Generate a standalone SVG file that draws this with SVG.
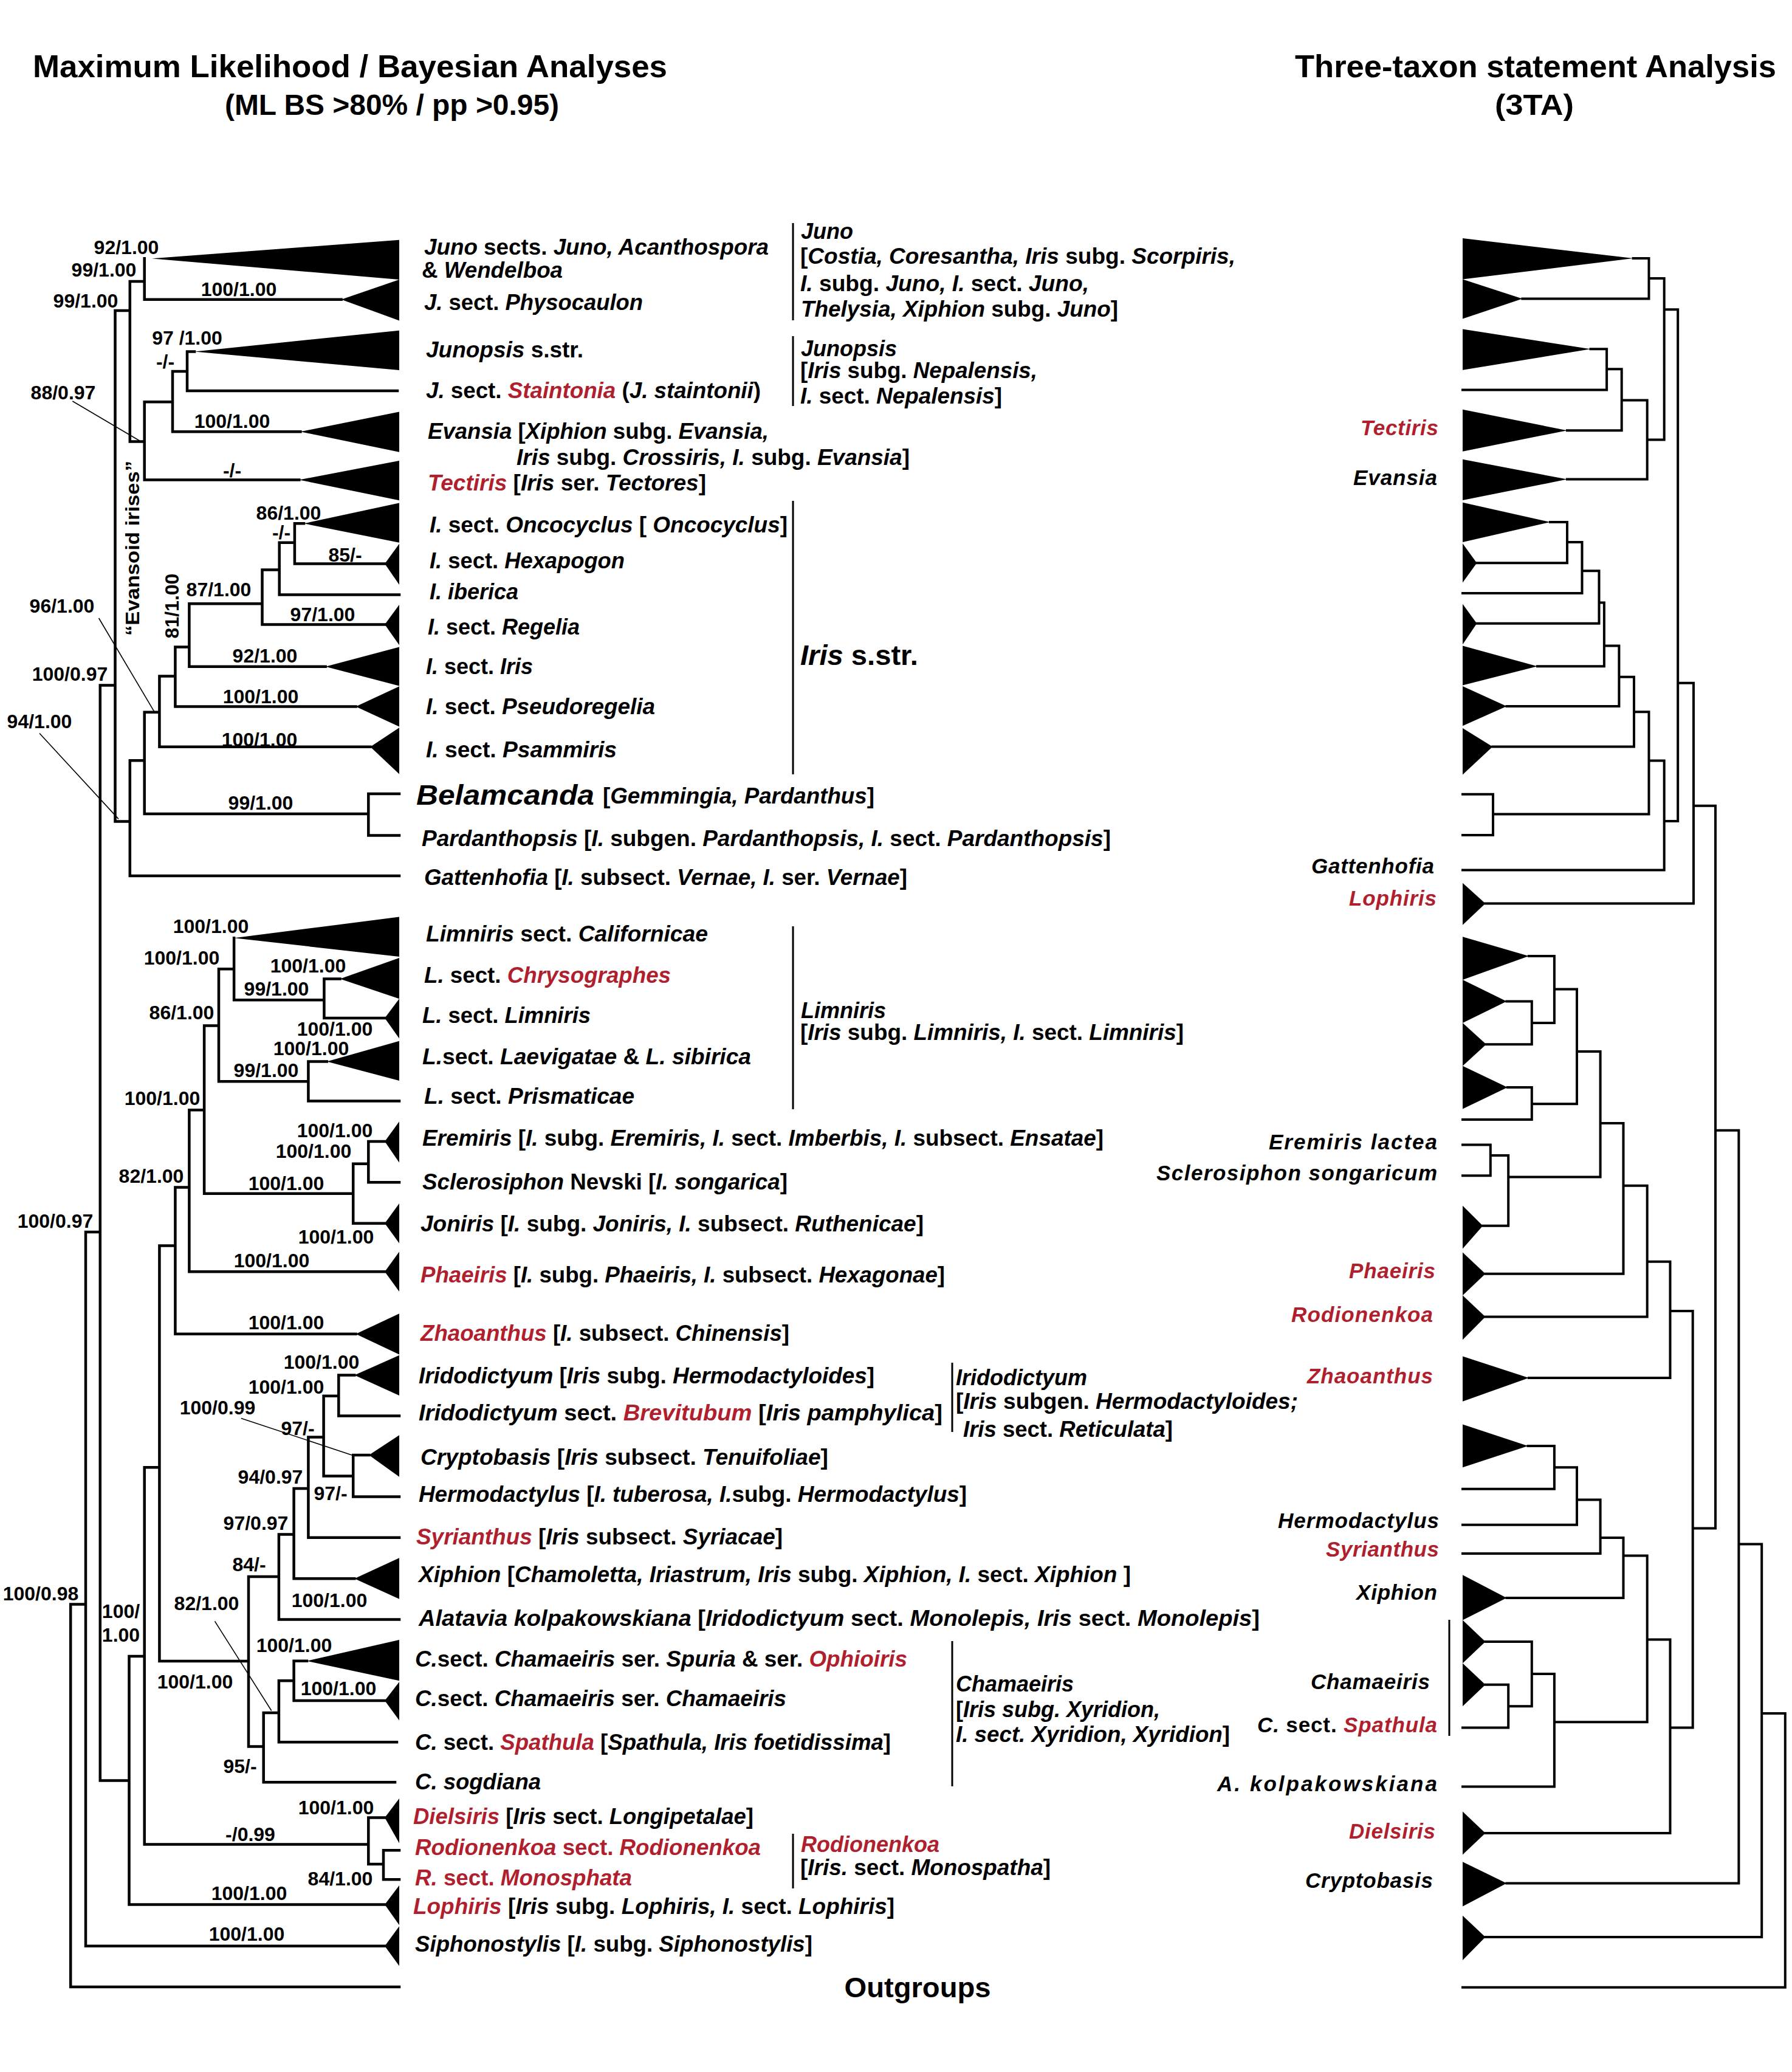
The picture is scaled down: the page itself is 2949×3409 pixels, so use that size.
<svg xmlns="http://www.w3.org/2000/svg" width="2949" height="3409" viewBox="0 0 2949 3409">
<style>
.ln{stroke:#000;stroke-width:4.5;fill:none;stroke-linecap:square}
.rl{stroke:#000;stroke-width:4;fill:none;stroke-linecap:square}
.ld{stroke:#000;stroke-width:1.6;fill:none}
.bar{stroke:#000;stroke-width:3;fill:none}
.tri{fill:#000;stroke:none}
.n{font-family:"Liberation Sans",Arial,sans-serif;font-weight:bold;font-size:32px;text-anchor:middle;fill:#000}
.t{font-family:"Liberation Sans",Arial,sans-serif;font-weight:bold;font-size:36px;fill:#000}
.big{font-family:"Liberation Sans",Arial,sans-serif;font-weight:bold;font-size:46px;fill:#000}
.r3{font-family:"Liberation Sans",Arial,sans-serif;font-weight:bold;font-style:italic;font-size:35px;text-anchor:end;fill:#000}
.ttl{font-family:"Liberation Sans",Arial,sans-serif;font-weight:bold;font-size:52px;text-anchor:middle;fill:#000}
.sub{font-family:"Liberation Sans",Arial,sans-serif;font-weight:bold;font-size:48px;text-anchor:middle;fill:#000}
.i{font-style:italic}
.red{fill:#b01f2e}
</style>

<g id="titles">
<text class="ttl" x="576" y="127" textLength="1044" lengthAdjust="spacingAndGlyphs">Maximum Likelihood / Bayesian Analyses</text>
<text class="sub" x="645" y="189" textLength="550" lengthAdjust="spacingAndGlyphs">(ML BS &gt;80% / pp &gt;0.95)</text>
<text class="ttl" x="2527" y="127" textLength="792" lengthAdjust="spacingAndGlyphs">Three-taxon statement Analysis</text>
<text class="sub" x="2525" y="189" textLength="130" lengthAdjust="spacingAndGlyphs">(3TA)</text>
</g>

<g id="connectors">
<path class="ln" d="M237.7,492.7H561.6 M237.7,425.3V492.7 M213.8,462.9H237.7 M213.8,462.9V726.6H237.7 M189.5,511H213.8
M308,578.4H320 M308,642.9H654 M308,578.4V642.9 M284,611H308 M284,611V710.2H494.4 M237.7,661.3H284 M237.7,661.3V789.4H492.3
M484.9,861.3H500 M484.9,861.3V927.4H633.2 M459.7,892.7H484.9 M459.7,892.7V978.4H657 M431.5,937.6H459.7 M431.5,937.6V1027.4H633.2
M311.4,993.3H431.5 M311.4,993.3V1096.7H535.6 M288.4,1064.6H311.4 M288.4,1064.6V1162.4H585.5 M262.4,1112.6H288.4 M262.4,1112.6V1228.7H609.4
M237.7,1171.7H262.4 M237.7,1171.7V1339.1H606.3 M606.3,1306V1374.6 M606.3,1306H657 M606.3,1374.6H657
M213.8,1251.2H237.7 M213.8,1251.2V1440.9H657 M189.5,1351.4H213.8 M189.5,511V1351.4 M164.8,1127.6H189.5 M164.8,1127.6V2929.4H212.5
M385.1,1543.3V1645.3H533.4 M533.4,1610.6H559.5 M533.4,1610.6V1675.1H633.2 M360,1594.3H385.1 M360,1594.3V1779.2H507.4
M507.4,1746.6V1811.5H657 M507.4,1746.6H537.8 M336.1,1687.4H360 M336.1,1687.4V1963.7H581.2
M581.2,1914.7V2012.7H633.2 M581.2,1914.7H606.3 M606.3,1878V1945.3H657 M606.3,1878H633.2
M311.4,1826.2H336.1 M311.4,1826.2V2092.3H633.2 M288.4,1953.5H311.4 M288.4,1953.5V2194.7H585.5
M262.4,2049.4H288.4 M262.4,2049.4V2733H409
M557.3,2262.5H583.3 M557.3,2262.5V2329.4H657 M532.6,2296.8H557.3 M532.6,2296.8V2428.6H581.2
M581.2,2393.9H607.2 M581.2,2393.9V2462.5H657 M507.4,2364.5H532.6 M507.4,2364.5V2529.8H657
M483.6,2449H507.4 M483.6,2449V2597.2H583.3 M458.9,2524.5H483.6 M458.9,2524.5V2664.5H657
M409,2594H458.9 M409,2594V2873.4H433.7 M433.7,2817.9V2932.3H650 M433.7,2817.9H458.9
M458.9,2765.2V2866.3H653 M458.9,2765.2H483.6 M483.6,2732.8H505 M483.6,2732.8V2798H633.2
M237.7,2414.3H262.4 M237.7,2414.3V3034.6H606.3 M606.3,2990.4V3067H631 M606.3,2990.4H633.2
M631,3044.3V3092.3 M631,3044.3H657 M631,3092.3H657
M212.5,2725H237.7 M212.5,2725V3133.5H633.2
M141,2027H164.8 M141,2027V3201.7H633.2 M116.2,2639.6H141 M116.2,2639.6V3269H657"/>
<path class="ld" d="M119.3,660L229.9,725.3 M162.6,1017L253.7,1170.7 M65,1206.5L195,1347.4 M396.8,2333.5L579,2393.9 M353.5,2667.4L446.7,2814.5"/>
<path class="rl" d="M2687.6,425H2713.5 M2505.3,491.6H2713.5 M2713.5,425V491.6 M2713.5,458H2738.7 M2738.7,458V723.5 M2710.7,723.5H2738.7 M2738.7,509.2H2761.2
M2617.5,574.3H2644.1 M2407,641.6H2644.1 M2644.1,574.3V641.6 M2644.1,607.2H2668.7 M2578.9,708.2H2668.7 M2668.7,607.2V708.2 M2668.7,658.5H2710.7
M2578.9,788.6H2710.7 M2710.7,658.5V788.6
M2551,859H2579 M2430.3,926.3H2579 M2579,859V926.3 M2579,891.9H2603.5 M2407,976H2603.5 M2603.5,891.9V976 M2603.5,939.3H2631.5
M2430.3,1025.8H2631.5 M2631.5,939.3V1025.8 M2631.5,991.4H2639.9 M2529.9,1096.2H2639.9 M2639.9,991.4V1096.2 M2639.9,1062.5H2664.4
M2479.4,1162H2664.4 M2664.4,1062.5V1162 M2664.4,1113.8H2689 M2456.3,1228.6H2689 M2689,1113.8V1228.6 M2689,1171.2H2713.5
M2407,1306.7H2457 M2407,1374H2457 M2457,1306.7V1374 M2457,1339.6H2713.5 M2713.5,1171.2V1339.6 M2713.5,1251.6H2738.7
M2407,1431.4H2738.7 M2738.7,1251.6V1431.4 M2738.7,1351H2761.2 M2761.2,509.2V1351 M2761.2,1123.8H2787
M2444.4,1486.5H2787 M2787,1123.8V1486.5 M2787,1325.8H2823 M2823,1325.8V2514.6 M2785.7,2514.6H2823 M2823,1859.8H2861.4
M2515.9,1573.1H2557.9 M2479.4,1647.5H2520.8 M2445.8,1718.3H2520.8 M2520.8,1647.5V1718.3 M2520.8,1682.9H2557.9 M2557.9,1573.1V1682.9 M2557.9,1627.4H2595
M2480.8,1789H2520.8 M2407,1842.1H2520.8 M2520.8,1789V1842.1 M2520.8,1816.2H2595 M2595,1627.4V1816.2 M2595,1730H2633.6
M2407,1883.4H2452.8 M2407,1934.2H2452.8 M2452.8,1883.4V1934.2 M2452.8,1901.1H2482.2 M2440.2,2016.7H2482.2 M2482.2,1901.1V2016.7 M2482.2,1936.5H2633.6
M2633.6,1730V1936.5 M2633.6,1848H2671.5 M2444.4,2095.8H2671.5 M2671.5,1848V2095.8 M2671.5,1950.7H2710.7
M2444.4,2166.6H2710.7 M2710.7,1950.7V2166.6 M2710.7,2075.7H2748.5 M2515.9,2266.9H2748.5 M2748.5,2075.7V2266.9 M2748.5,2157.1H2785.7 M2785.7,2157.1V2842.6
M2514.5,2378.9H2557.9 M2407,2449.7H2557.9 M2557.9,2378.9V2449.7 M2557.9,2414.3H2595 M2407,2508.7H2595 M2595,2414.3V2508.7 M2595,2467.4H2633.6
M2407,2555.9H2633.6 M2633.6,2467.4V2555.9 M2633.6,2530H2671.5 M2479.4,2629.1H2671.5 M2671.5,2530V2629.1 M2671.5,2559.5H2710.7
M2444.4,2701H2520.8 M2444.4,2771.8H2482.2 M2407,2842.6H2482.2 M2482.2,2771.8V2842.6 M2482.2,2807.2H2520.8 M2520.8,2701V2807.2 M2520.8,2754.1H2557.9
M2407,2939.4H2557.9 M2557.9,2754.1V2939.4 M2557.9,2833.2H2710.7 M2710.7,2559.5V2833.2 M2710.7,2697.5H2748.5
M2444.4,3016H2748.5 M2748.5,2697.5V3016 M2748.5,2842.6H2785.7
M2479.4,3098.6H2861.4 M2861.4,1859.8V3098.6 M2861.4,2540.6H2899.2 M2444.4,3187.1H2899.2 M2899.2,2540.6V3187.1 M2899.2,2819H2937.8
M2407,3269.7H2937.8 M2937.8,2819V3269.7"/>
</g>

<g id="group-bars">
<path class="bar" d="M1305,367V527 M1305,553V668 M1305,824V1274 M1305,1524V1825 M1567,2242V2356 M1567,2700V2939 M1305,3017V3107 M2385,2665V2856"/>
</g>

<g id="support">
<text class="n" x="208" y="418">92/1.00</text>
<text class="n" x="171" y="455">99/1.00</text>
<text class="n" x="141" y="506">99/1.00</text>
<text class="n" x="393" y="487">100/1.00</text>
<text class="n" x="308" y="567">97 /1.00</text>
<text class="n" x="272" y="606">-/-</text>
<text class="n" x="104" y="657">88/0.97</text>
<text class="n" x="382" y="704">100/1.00</text>
<text class="n" x="382" y="785">-/-</text>
<text class="n" x="475" y="855">86/1.00</text>
<text class="n" x="463" y="887">-/-</text>
<text class="n" x="568" y="924">85/-</text>
<text class="n" x="360" y="981">87/1.00</text>
<text class="n" x="531" y="1022">97/1.00</text>
<text class="n" x="102" y="1008">96/1.00</text>
<text class="n" x="436" y="1090">92/1.00</text>
<text class="n" x="115" y="1120">100/0.97</text>
<text class="n" x="429" y="1157">100/1.00</text>
<text class="n" x="65" y="1198">94/1.00</text>
<text class="n" x="427" y="1228">100/1.00</text>
<text class="n" x="429" y="1332">99/1.00</text>
<text class="n" x="347" y="1535">100/1.00</text>
<text class="n" x="299" y="1587">100/1.00</text>
<text class="n" x="507" y="1600">100/1.00</text>
<text class="n" x="455" y="1638">99/1.00</text>
<text class="n" x="299" y="1677">86/1.00</text>
<text class="n" x="551" y="1704">100/1.00</text>
<text class="n" x="512" y="1736">100/1.00</text>
<text class="n" x="438" y="1772">99/1.00</text>
<text class="n" x="267" y="1818">100/1.00</text>
<text class="n" x="551" y="1871">100/1.00</text>
<text class="n" x="516" y="1905">100/1.00</text>
<text class="n" x="249" y="1946">82/1.00</text>
<text class="n" x="471" y="1958">100/1.00</text>
<text class="n" x="91" y="2020">100/0.97</text>
<text class="n" x="553" y="2046">100/1.00</text>
<text class="n" x="447" y="2085">100/1.00</text>
<text class="n" x="471" y="2187">100/1.00</text>
<text class="n" x="529" y="2252">100/1.00</text>
<text class="n" x="471" y="2293">100/1.00</text>
<text class="n" x="358" y="2327">100/0.99</text>
<text class="n" x="490" y="2361">97/-</text>
<text class="n" x="445" y="2441">94/0.97</text>
<text class="n" x="544" y="2468">97/-</text>
<text class="n" x="421" y="2517">97/0.97</text>
<text class="n" x="410" y="2585">84/-</text>
<text class="n" x="67" y="2633">100/0.98</text>
<text class="n" x="542" y="2644">100/1.00</text>
<text class="n" x="340" y="2649">82/1.00</text>
<text class="n" x="199" y="2662">100/</text>
<text class="n" x="199" y="2701">1.00</text>
<text class="n" x="484" y="2718">100/1.00</text>
<text class="n" x="321" y="2778">100/1.00</text>
<text class="n" x="557" y="2789">100/1.00</text>
<text class="n" x="395" y="2917">95/-</text>
<text class="n" x="553" y="2985">100/1.00</text>
<text class="n" x="412" y="3029">-/0.99</text>
<text class="n" x="560" y="3102">84/1.00</text>
<text class="n" x="410" y="3126">100/1.00</text>
<text class="n" x="406" y="3193">100/1.00</text>
<text class="n" transform="translate(294,997) rotate(-90)">81/1.00</text>
<text class="n" transform="translate(229,902) rotate(-90)" textLength="288" lengthAdjust="spacingAndGlyphs">“Evansoid irises”</text>
</g>

<g id="ml-juno">
<polygon class="tri" points="250,425.3 657,394.7 657,460"/>
<text class="t" x="698" y="419" textLength="567" lengthAdjust="spacingAndGlyphs"><tspan class="i">Juno</tspan> sects. <tspan class="i">Juno, Acanthospora</tspan></text>
<text class="t" x="694" y="457" textLength="232" lengthAdjust="spacingAndGlyphs">&amp; <tspan class="i">Wendelboa</tspan></text>
</g>
<g id="ml-physocaulon">
<polygon class="tri" points="561.6,492.7 657,460 657,527.4"/>
<text class="t" x="698" y="510" textLength="360" lengthAdjust="spacingAndGlyphs"><tspan class="i">J.</tspan> sect. <tspan class="i">Physocaulon</tspan></text>
</g>
<g id="genus-juno">
<text class="t i" x="1318" y="393">Juno</text>
<text class="t" x="1317" y="434" textLength="716" lengthAdjust="spacingAndGlyphs">[<tspan class="i">Costia, Coresantha, Iris</tspan> subg. <tspan class="i">Scorpiris,</tspan></text>
<text class="t" x="1317" y="479" textLength="475" lengthAdjust="spacingAndGlyphs"><tspan class="i">I.</tspan> subg. <tspan class="i">Juno, I.</tspan> sect. <tspan class="i">Juno,</tspan></text>
<text class="t" x="1318" y="521" textLength="522" lengthAdjust="spacingAndGlyphs"><tspan class="i">Thelysia, Xiphion</tspan> subg. <tspan class="i">Juno</tspan>]</text>
</g>
<g id="ml-junopsis">
<polygon class="tri" points="320,578.4 657,543.7 657,609"/>
<text class="t" x="701" y="588" textLength="259" lengthAdjust="spacingAndGlyphs"><tspan class="i">Junopsis</tspan> s.str.</text>
</g>
<g id="ml-staintonia">
<text class="t" x="701" y="655" textLength="551" lengthAdjust="spacingAndGlyphs"><tspan class="i">J.</tspan> sect. <tspan class="i red">Staintonia</tspan> (<tspan class="i">J. staintonii</tspan>)</text>
</g>
<g id="genus-junopsis">
<text class="t i" x="1318" y="586">Junopsis</text>
<text class="t" x="1317" y="622" textLength="390" lengthAdjust="spacingAndGlyphs">[<tspan class="i">Iris</tspan> subg. <tspan class="i">Nepalensis,</tspan></text>
<text class="t" x="1317" y="664" textLength="332" lengthAdjust="spacingAndGlyphs"><tspan class="i">I.</tspan> sect. <tspan class="i">Nepalensis</tspan>]</text>
</g>
<g id="ml-evansia">
<polygon class="tri" points="494.4,710.2 657,677.6 657,743.7"/>
<text class="t" x="704" y="722" textLength="561" lengthAdjust="spacingAndGlyphs"><tspan class="i">Evansia</tspan> [<tspan class="i">Xiphion</tspan> subg. <tspan class="i">Evansia,</tspan></text>
<text class="t" x="850" y="765" textLength="647" lengthAdjust="spacingAndGlyphs"><tspan class="i">Iris</tspan> subg. <tspan class="i">Crossiris, I.</tspan> subg. <tspan class="i">Evansia</tspan>]</text>
</g>
<g id="ml-tectiris">
<polygon class="tri" points="492.3,789.4 657,758 657,823.3"/>
<text class="t" x="704" y="807" textLength="458" lengthAdjust="spacingAndGlyphs"><tspan class="i red">Tectiris</tspan> [<tspan class="i">Iris</tspan> ser. <tspan class="i">Tectores</tspan>]</text>
</g>
<g id="ml-oncocyclus">
<polygon class="tri" points="500,861.3 657,827.4 657,892.7"/>
<text class="t" x="707" y="876" textLength="589" lengthAdjust="spacingAndGlyphs"><tspan class="i">I.</tspan> sect. <tspan class="i">Oncocyclus</tspan> [ <tspan class="i">Oncocyclus</tspan>]</text>
</g>
<g id="ml-hexapogon">
<polygon class="tri" points="633.2,927.4 657,894.7 657,962.1"/>
<text class="t" x="707" y="935" textLength="321" lengthAdjust="spacingAndGlyphs"><tspan class="i">I.</tspan> sect. <tspan class="i">Hexapogon</tspan></text>
</g>
<g id="ml-iberica">
<text class="t i" x="707" y="986">I. iberica</text>
</g>
<g id="ml-regelia">
<polygon class="tri" points="633.2,1027.4 657,994.9 657,1061.2"/>
<text class="t" x="704" y="1044"><tspan class="i">I.</tspan> sect. <tspan class="i">Regelia</tspan></text>
</g>
<g id="ml-iris">
<polygon class="tri" points="535.6,1096.7 657,1064.6 657,1128.6"/>
<text class="t" x="701" y="1109"><tspan class="i">I.</tspan> sect. <tspan class="i">Iris</tspan></text>
</g>
<g id="genus-iris">
<text class="big" x="1317" y="1094" textLength="194" lengthAdjust="spacingAndGlyphs"><tspan class="i">Iris</tspan> s.str.</text>
</g>
<g id="ml-pseudoregelia">
<polygon class="tri" points="585.5,1162.4 657,1129.2 657,1195.5"/>
<text class="t" x="701" y="1175" textLength="377" lengthAdjust="spacingAndGlyphs"><tspan class="i">I.</tspan> sect. <tspan class="i">Pseudoregelia</tspan></text>
</g>
<g id="ml-psammiris">
<polygon class="tri" points="609.4,1228.7 657,1197.2 657,1273.5"/>
<text class="t" x="701" y="1246" textLength="314" lengthAdjust="spacingAndGlyphs"><tspan class="i">I.</tspan> sect. <tspan class="i">Psammiris</tspan></text>
</g>
<g id="ml-belamcanda">
<text class="big i" x="685" y="1324" textLength="293" lengthAdjust="spacingAndGlyphs">Belamcanda</text>
<text class="t" x="992" y="1322" textLength="447" lengthAdjust="spacingAndGlyphs">[<tspan class="i">Gemmingia, Pardanthus</tspan>]</text>
</g>
<g id="ml-pardanthopsis">
<text class="t" x="694" y="1392" textLength="1134" lengthAdjust="spacingAndGlyphs"><tspan class="i">Pardanthopsis</tspan> [<tspan class="i">I.</tspan> subgen. <tspan class="i">Pardanthopsis, I.</tspan> sect. <tspan class="i">Pardanthopsis</tspan>]</text>
</g>
<g id="ml-gattenhofia">
<text class="t" x="698" y="1456" textLength="795" lengthAdjust="spacingAndGlyphs"><tspan class="i">Gattenhofia</tspan> [<tspan class="i">I.</tspan> subsect. <tspan class="i">Vernae, I.</tspan> ser. <tspan class="i">Vernae</tspan>]</text>
</g>
<g id="ml-californicae">
<polygon class="tri" points="385.1,1543.3 657,1508.6 657,1573.9"/>
<text class="t" x="701" y="1549" textLength="464" lengthAdjust="spacingAndGlyphs"><tspan class="i">Limniris</tspan> sect. <tspan class="i">Californicae</tspan></text>
</g>
<g id="ml-chrysographes">
<polygon class="tri" points="559.5,1610.6 657,1576 657,1643.3"/>
<text class="t" x="698" y="1617" textLength="406" lengthAdjust="spacingAndGlyphs"><tspan class="i">L.</tspan> sect. <tspan class="i red">Chrysographes</tspan></text>
</g>
<g id="ml-limniris">
<polygon class="tri" points="633.2,1675.1 657,1643.3 657,1708.6"/>
<text class="t" x="695" y="1683" textLength="277" lengthAdjust="spacingAndGlyphs"><tspan class="i">L.</tspan> sect. <tspan class="i">Limniris</tspan></text>
</g>
<g id="ml-laevigatae">
<polygon class="tri" points="537.8,1746.6 657,1712.7 657,1778"/>
<text class="t" x="695" y="1751" textLength="541" lengthAdjust="spacingAndGlyphs"><tspan class="i">L.</tspan>sect. <tspan class="i">Laevigatae</tspan> &amp; <tspan class="i">L. sibirica</tspan></text>
</g>
<g id="ml-prismaticae">
<text class="t" x="698" y="1816" textLength="346" lengthAdjust="spacingAndGlyphs"><tspan class="i">L.</tspan> sect. <tspan class="i">Prismaticae</tspan></text>
</g>
<g id="genus-limniris">
<text class="t i" x="1318" y="1675">Limniris</text>
<text class="t" x="1317" y="1711" textLength="631" lengthAdjust="spacingAndGlyphs">[<tspan class="i">Iris</tspan> subg. <tspan class="i">Limniris, I.</tspan> sect. <tspan class="i">Limniris</tspan>]</text>
</g>
<g id="ml-eremiris">
<polygon class="tri" points="633.2,1878 657,1845.3 657,1912.7"/>
<text class="t" x="695" y="1885" textLength="1121" lengthAdjust="spacingAndGlyphs"><tspan class="i">Eremiris</tspan> [<tspan class="i">I.</tspan> subg. <tspan class="i">Eremiris, I.</tspan> sect. <tspan class="i">Imberbis, I.</tspan> subsect. <tspan class="i">Ensatae</tspan>]</text>
</g>
<g id="ml-sclerosiphon">
<text class="t" x="695" y="1957" textLength="601" lengthAdjust="spacingAndGlyphs"><tspan class="i">Sclerosiphon</tspan> Nevski [<tspan class="i">I. songarica</tspan>]</text>
</g>
<g id="ml-joniris">
<polygon class="tri" points="633.2,2012.7 657,1980 657,2045.4"/>
<text class="t" x="692" y="2026" textLength="828" lengthAdjust="spacingAndGlyphs"><tspan class="i">Joniris</tspan> [<tspan class="i">I.</tspan> subg. <tspan class="i">Joniris, I.</tspan> subsect. <tspan class="i">Ruthenicae</tspan>]</text>
</g>
<g id="ml-phaeiris">
<polygon class="tri" points="633.2,2092.3 657,2059.6 657,2125"/>
<text class="t" x="692" y="2110" textLength="863" lengthAdjust="spacingAndGlyphs"><tspan class="i red">Phaeiris</tspan> [<tspan class="i">I.</tspan> subg. <tspan class="i">Phaeiris, I.</tspan> subsect. <tspan class="i">Hexagonae</tspan>]</text>
</g>
<g id="ml-zhaoanthus">
<polygon class="tri" points="585.5,2194.7 657,2161.2 657,2228.6"/>
<text class="t" x="692" y="2206" textLength="607" lengthAdjust="spacingAndGlyphs"><tspan class="i red">Zhaoanthus</tspan> [<tspan class="i">I.</tspan> subsect. <tspan class="i">Chinensis</tspan>]</text>
</g>
<g id="ml-iridodictyum">
<polygon class="tri" points="583.3,2262.5 657,2229.8 657,2296"/>
<text class="t" x="689" y="2276" textLength="750" lengthAdjust="spacingAndGlyphs"><tspan class="i">Iridodictyum</tspan> [<tspan class="i">Iris</tspan> subg. <tspan class="i">Hermodactyloides</tspan>]</text>
</g>
<g id="ml-brevitubum">
<text class="t" x="689" y="2337" textLength="862" lengthAdjust="spacingAndGlyphs"><tspan class="i">Iridodictyum</tspan> sect. <tspan class="i red">Brevitubum</tspan> [<tspan class="i">Iris pamphylica</tspan>]</text>
</g>
<g id="genus-iridodictyum">
<text class="t i" x="1573" y="2279">Iridodictyum</text>
<text class="t" x="1573" y="2318" textLength="563" lengthAdjust="spacingAndGlyphs">[<tspan class="i">Iris</tspan> subgen. <tspan class="i">Hermodactyloides;</tspan></text>
<text class="t" x="1585" y="2364" textLength="345" lengthAdjust="spacingAndGlyphs"><tspan class="i">Iris</tspan> sect. <tspan class="i">Reticulata</tspan>]</text>
</g>
<g id="ml-cryptobasis">
<polygon class="tri" points="607.2,2393.9 657,2361.2 657,2429.8"/>
<text class="t" x="692" y="2410" textLength="671" lengthAdjust="spacingAndGlyphs"><tspan class="i">Cryptobasis</tspan> [<tspan class="i">Iris</tspan> subsect. <tspan class="i">Tenuifoliae</tspan>]</text>
</g>
<g id="ml-hermodactylus">
<text class="t" x="689" y="2471" textLength="902" lengthAdjust="spacingAndGlyphs"><tspan class="i">Hermodactylus</tspan> [<tspan class="i">I. tuberosa, I.</tspan>subg. <tspan class="i">Hermodactylus</tspan>]</text>
</g>
<g id="ml-syrianthus">
<text class="t" x="685" y="2541" textLength="603" lengthAdjust="spacingAndGlyphs"><tspan class="i red">Syrianthus</tspan> [<tspan class="i">Iris</tspan> subsect. <tspan class="i">Syriacae</tspan>]</text>
</g>
<g id="ml-xiphion">
<polygon class="tri" points="583.3,2597.2 657,2563.3 657,2630.7"/>
<text class="t" x="689" y="2603" textLength="1172" lengthAdjust="spacingAndGlyphs"><tspan class="i">Xiphion</tspan> [<tspan class="i">Chamoletta, Iriastrum, Iris</tspan> subg. <tspan class="i">Xiphion, I.</tspan> sect. <tspan class="i">Xiphion</tspan> ]</text>
</g>
<g id="ml-alatavia">
<text class="t" x="689" y="2675" textLength="1384" lengthAdjust="spacingAndGlyphs"><tspan class="i">Alatavia kolpakowskiana</tspan> [<tspan class="i">Iridodictyum</tspan> sect. <tspan class="i">Monolepis, Iris</tspan> sect. <tspan class="i">Monolepis</tspan>]</text>
</g>
<g id="ml-spuria">
<polygon class="tri" points="505,2732.8 657,2698 657,2765.2"/>
<text class="t" x="683" y="2742" textLength="810" lengthAdjust="spacingAndGlyphs"><tspan class="i">C.</tspan>sect. <tspan class="i">Chamaeiris</tspan> ser. <tspan class="i">Spuria</tspan> &amp; ser. <tspan class="i red">Ophioiris</tspan></text>
</g>
<g id="ml-chamaeiris">
<polygon class="tri" points="633.2,2798 657,2767.3 657,2830.5"/>
<text class="t" x="683" y="2807" textLength="611" lengthAdjust="spacingAndGlyphs"><tspan class="i">C.</tspan>sect. <tspan class="i">Chamaeiris</tspan> ser. <tspan class="i">Chamaeiris</tspan></text>
</g>
<g id="ml-spathula">
<text class="t" x="683" y="2879" textLength="783" lengthAdjust="spacingAndGlyphs"><tspan class="i">C.</tspan> sect. <tspan class="i red">Spathula</tspan> [<tspan class="i">Spathula, Iris foetidissima</tspan>]</text>
</g>
<g id="ml-sogdiana">
<text class="t i" x="683" y="2944" textLength="207" lengthAdjust="spacingAndGlyphs">C. sogdiana</text>
</g>
<g id="genus-chamaeiris">
<text class="t i" x="1573" y="2783">Chamaeiris</text>
<text class="t" x="1573" y="2825">[<tspan class="i">Iris subg. Xyridion,</tspan></text>
<text class="t" x="1573" y="2866" textLength="451" lengthAdjust="spacingAndGlyphs"><tspan class="i">I. sect. Xyridion, Xyridion</tspan>]</text>
</g>
<g id="ml-dielsiris">
<polygon class="tri" points="633.2,2990.4 657,2958.9 657,3032.5"/>
<text class="t" x="680" y="3001" textLength="560" lengthAdjust="spacingAndGlyphs"><tspan class="i red">Dielsiris</tspan> [<tspan class="i">Iris</tspan> sect. <tspan class="i">Longipetalae</tspan>]</text>
</g>
<g id="ml-rodionenkoa">
<text class="t red" x="683" y="3052" textLength="569" lengthAdjust="spacingAndGlyphs"><tspan class="i">Rodionenkoa</tspan> sect. <tspan class="i">Rodionenkoa</tspan></text>
</g>
<g id="ml-monosphata">
<text class="t red" x="683" y="3102" textLength="357" lengthAdjust="spacingAndGlyphs"><tspan class="i">R.</tspan> sect. <tspan class="i">Monosphata</tspan></text>
</g>
<g id="genus-rodionenkoa">
<text class="t i red" x="1318" y="3047">Rodionenkoa</text>
<text class="t" x="1317" y="3085" textLength="412" lengthAdjust="spacingAndGlyphs">[<tspan class="i">Iris.</tspan> sect. <tspan class="i">Monospatha</tspan>]</text>
</g>
<g id="ml-lophiris">
<polygon class="tri" points="633.2,3133.5 657,3102 657,3167.2"/>
<text class="t" x="680" y="3149" textLength="792" lengthAdjust="spacingAndGlyphs"><tspan class="i red">Lophiris</tspan> [<tspan class="i">Iris</tspan> subg. <tspan class="i">Lophiris, I.</tspan> sect. <tspan class="i">Lophiris</tspan>]</text>
</g>
<g id="ml-siphonostylis">
<polygon class="tri" points="633.2,3201.7 657,3169.3 657,3234.5"/>
<text class="t" x="683" y="3211" textLength="654" lengthAdjust="spacingAndGlyphs"><tspan class="i">Siphonostylis</tspan> [<tspan class="i">I.</tspan> subg. <tspan class="i">Siphonostylis</tspan>]</text>
</g>
<g id="outgroups">
<text class="big" x="1510" y="3286" text-anchor="middle" textLength="241" lengthAdjust="spacingAndGlyphs">Outgroups</text>
</g>

<g id="tta-tips">
<polygon class="tri" points="2407,392.1 2407,459.5 2687.6,425"/>
<polygon class="tri" points="2407,459.5 2407,524.5 2505.3,491.6"/>
<polygon class="tri" points="2407,541.4 2407,608.7 2617.5,574.3"/>
<polygon class="tri" points="2407,673.8 2407,742.7 2578.9,708.2"/>
<polygon class="tri" points="2407,755.7 2407,823 2578.9,788.6"/>
<polygon class="tri" points="2407,826.8 2407,891.9 2551,859"/>
<polygon class="tri" points="2407,894.2 2407,958.5 2430.3,926.3"/>
<polygon class="tri" points="2407,993.7 2407,1060.2 2430.3,1025.8"/>
<polygon class="tri" points="2407,1062.5 2407,1127.6 2529.9,1096.2"/>
<polygon class="tri" points="2407,1129.1 2407,1194.2 2479.4,1162"/>
<polygon class="tri" points="2407,1198 2407,1274.5 2456.3,1228.6"/>
<polygon class="tri" points="2407,1452.8 2407,1521.7 2444.4,1486.5"/>
<polygon class="tri" points="2407,1541.3 2407,1612 2515.9,1573.1"/>
<polygon class="tri" points="2407,1612 2407,1682.9 2479.4,1647.5"/>
<polygon class="tri" points="2407,1682.9 2407,1753.7 2445.8,1718.3"/>
<polygon class="tri" points="2407,1753.7 2407,1824.4 2480.8,1789"/>
<polygon class="tri" points="2407,1983.7 2407,2054.5 2440.2,2016.7"/>
<polygon class="tri" points="2407,2060.4 2407,2131.2 2444.4,2095.8"/>
<polygon class="tri" points="2407,2131.2 2407,2204.3 2444.4,2166.6"/>
<polygon class="tri" points="2407,2231.5 2407,2305.8 2515.9,2266.9"/>
<polygon class="tri" points="2407,2343.6 2407,2414.3 2514.5,2378.9"/>
<polygon class="tri" points="2407,2591.3 2407,2665.6 2479.4,2629.1"/>
<polygon class="tri" points="2407,2665.6 2407,2736.4 2444.4,2701"/>
<polygon class="tri" points="2407,2736.4 2407,2807.2 2444.4,2771.8"/>
<polygon class="tri" points="2407,2980.6 2407,3051.4 2444.4,3016"/>
<polygon class="tri" points="2407,3063.2 2407,3136.4 2479.4,3098.6"/>
<polygon class="tri" points="2407,3151.7 2407,3224.9 2444.4,3187.1"/>
</g>
<g id="tta-labels">
<text class="r3 red" x="2367" y="716" textLength="128" lengthAdjust="spacing">Tectiris</text>
<text class="r3" x="2365" y="798" textLength="138" lengthAdjust="spacing">Evansia</text>
<text class="r3" x="2360" y="1437" textLength="202" lengthAdjust="spacing">Gattenhofia</text>
<text class="r3 red" x="2364" y="1490" textLength="144" lengthAdjust="spacing">Lophiris</text>
<text class="r3" x="2365" y="1891" textLength="277" lengthAdjust="spacing">Eremiris lactea</text>
<text class="r3" x="2365" y="1942" textLength="462" lengthAdjust="spacing">Sclerosiphon songaricum</text>
<text class="r3 red" x="2362" y="2103" textLength="142" lengthAdjust="spacing">Phaeiris</text>
<text class="r3 red" x="2358" y="2175" textLength="233" lengthAdjust="spacing">Rodionenkoa</text>
<text class="r3 red" x="2358" y="2276" textLength="207" lengthAdjust="spacing">Zhaoanthus</text>
<text class="r3" x="2368" y="2514" textLength="265" lengthAdjust="spacing">Hermodactylus</text>
<text class="r3 red" x="2368" y="2561" textLength="186" lengthAdjust="spacing">Syrianthus</text>
<text class="r3" x="2365" y="2632" textLength="133" lengthAdjust="spacing">Xiphion</text>
<text class="r3" x="2353" y="2779" textLength="196" lengthAdjust="spacing">Chamaeiris</text>
<text class="r3" x="2365" y="2850" textLength="296" lengthAdjust="spacing">C. <tspan font-style="normal">sect.</tspan> <tspan class="red">Spathula</tspan></text>
<text class="r3" x="2365" y="2947" textLength="362" lengthAdjust="spacing">A. kolpakowskiana</text>
<text class="r3 red" x="2362" y="3025" textLength="142" lengthAdjust="spacing">Dielsiris</text>
<text class="r3" x="2358" y="3106" textLength="210" lengthAdjust="spacing">Cryptobasis</text>
</g>
</svg>
